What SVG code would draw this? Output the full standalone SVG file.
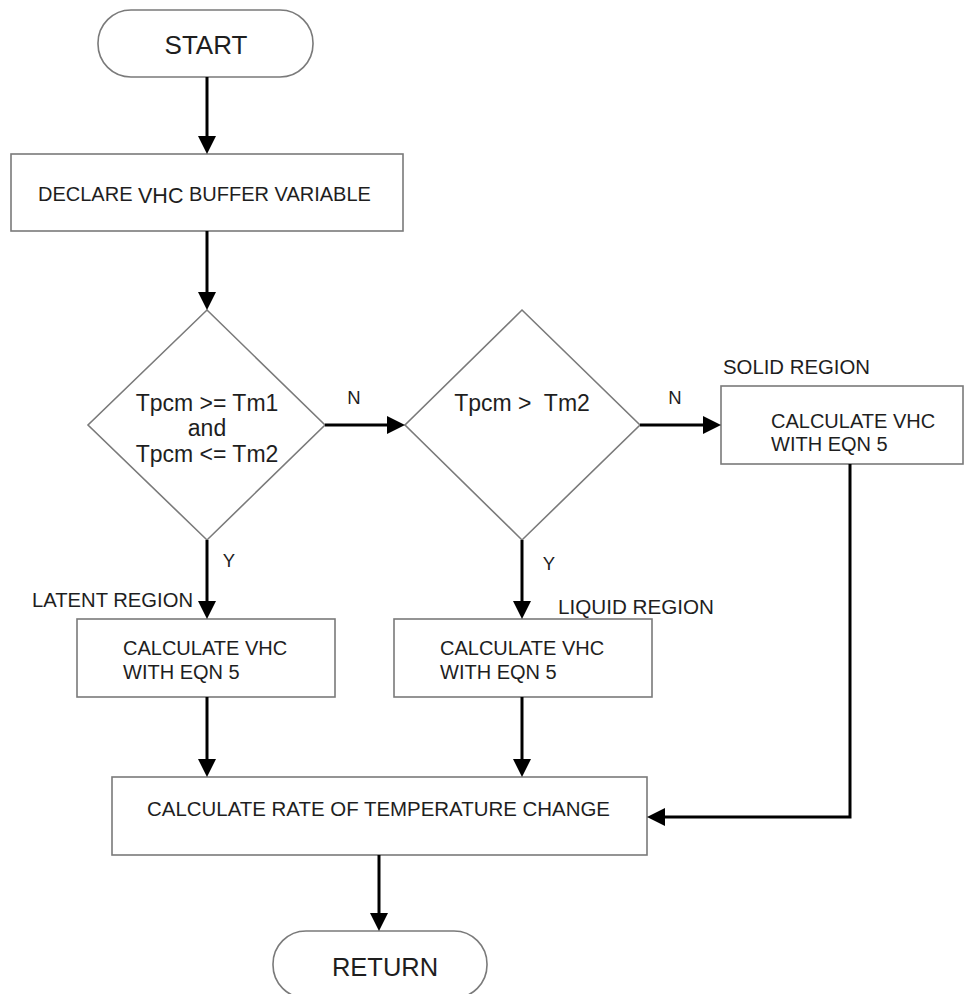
<svg xmlns="http://www.w3.org/2000/svg" width="969" height="994" viewBox="0 0 969 994">
<defs>
<style>
.shape{fill:#fff;stroke:#7a7a7a;stroke-width:1.6}
.t{font-family:"Liberation Sans",Arial,sans-serif;fill:#1e1e1e}
.conn{fill:none;stroke:#000;stroke-width:3}
</style>
<marker id="ah" viewBox="0 0 18 18" refX="8" refY="9" markerWidth="18" markerHeight="18" markerUnits="userSpaceOnUse" orient="auto">
<path d="M0,0 L18,9 L0,18 z" fill="#000"/>
</marker>
</defs>
<rect width="969" height="994" fill="#fff"/>

<g id="start">
<rect class="shape" x="98" y="10" width="215" height="67" rx="33" ry="33"/>
<text class="t" x="206" y="54" font-size="26" text-anchor="middle">START</text>
</g>

<g id="declare">
<rect class="shape" x="11" y="154" width="392" height="77"/>
<text class="t" x="38" y="201" font-size="20">DECLARE <tspan font-size="21.5" dy="2">VHC</tspan><tspan dy="-2"> BUFFER VARIABLE</tspan></text>
</g>

<g id="decision1">
<polygon class="shape" points="207,310 325,425 207,540 88,425"/>
<text class="t" font-size="23" text-anchor="middle"><tspan x="207" y="411">Tpcm &gt;= Tm1</tspan><tspan x="207" y="436">and</tspan><tspan x="207" y="462">Tpcm &lt;= Tm2</tspan></text>
</g>

<g id="decision2">
<polygon class="shape" points="522,310 640,425 522,540 405,425"/>
<text class="t" x="522" y="411" font-size="23" text-anchor="middle" xml:space="preserve">Tpcm &gt;  Tm2</text>
</g>

<g id="solid">
<text class="t" x="723" y="374" font-size="20" textLength="147" lengthAdjust="spacingAndGlyphs">SOLID REGION</text>
<rect class="shape" x="721" y="386" width="242" height="78"/>
<text class="t" font-size="20"><tspan x="771" y="428">CALCULATE VHC</tspan><tspan x="771" y="451">WITH EQN 5</tspan></text>
</g>

<g id="latent">
<text class="t" x="32" y="607" font-size="20" textLength="161" lengthAdjust="spacingAndGlyphs">LATENT REGION</text>
<rect class="shape" x="77" y="619" width="258" height="78"/>
<text class="t" font-size="20"><tspan x="123" y="655">CALCULATE VHC</tspan><tspan x="123" y="679">WITH EQN 5</tspan></text>
</g>

<g id="liquid">
<text class="t" x="558" y="614" font-size="20" textLength="156" lengthAdjust="spacingAndGlyphs">LIQUID REGION</text>
<rect class="shape" x="394" y="619" width="258" height="78"/>
<text class="t" font-size="20"><tspan x="440" y="655">CALCULATE VHC</tspan><tspan x="440" y="679">WITH EQN 5</tspan></text>
</g>

<g id="rate">
<rect class="shape" x="112" y="777" width="535" height="78"/>
<text class="t" x="147" y="816" font-size="20.5" textLength="463" lengthAdjust="spacingAndGlyphs">CALCULATE RATE OF TEMPERATURE CHANGE</text>
</g>

<g id="return">
<rect class="shape" x="273" y="931" width="214" height="67" rx="33" ry="33"/>
<text class="t" x="385" y="976" font-size="25.5" text-anchor="middle">RETURN</text>
</g>

<g id="connectors">
<path class="conn" marker-end="url(#ah)" d="M207,77 V144"/>
<path class="conn" marker-end="url(#ah)" d="M207,231 V300"/>
<path class="conn" marker-end="url(#ah)" d="M325,425 H395"/>
<path class="conn" marker-end="url(#ah)" d="M640,425 H711"/>
<path class="conn" marker-end="url(#ah)" d="M207,540 V609"/>
<path class="conn" marker-end="url(#ah)" d="M522,540 V609"/>
<path class="conn" marker-end="url(#ah)" d="M207,697 V767"/>
<path class="conn" marker-end="url(#ah)" d="M522,697 V767"/>
<path class="conn" marker-end="url(#ah)" d="M850,464 V817 H657"/>
<path class="conn" marker-end="url(#ah)" d="M379,855 V921"/>
<text class="t" x="354" y="404" font-size="18.5" text-anchor="middle">N</text>
<text class="t" x="675" y="404" font-size="18.5" text-anchor="middle">N</text>
<text class="t" x="229" y="567" font-size="18.5" text-anchor="middle">Y</text>
<text class="t" x="549" y="570" font-size="18.5" text-anchor="middle">Y</text>
</g>
</svg>
